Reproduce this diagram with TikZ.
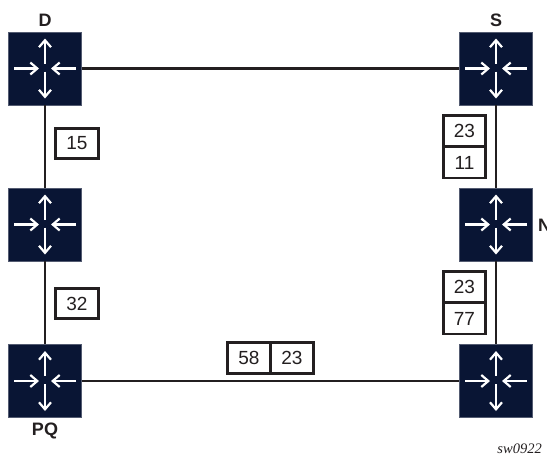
\documentclass[tikz,border=0pt]{standalone}
\usepackage{fontspec}
\setmainfont{Liberation Sans}
\newfontfamily\figfont{Liberation Serif}
\usetikzlibrary{arrows.meta}
\definecolor{routerblue}{RGB}{9,21,52}
\definecolor{linedark}{RGB}{35,31,32}
\tikzset{
  routerbox/.style={fill=routerblue,draw=routerblue!70!white,line width=0.4pt,minimum size=73pt,inner sep=0pt},
  routerarrow/.style={draw=white,line width=2.2pt,-{Straight Barb[length=7pt,width=12pt,line width=2.2pt]}},
  routerlink/.style={draw=linedark,line width=2.8pt},
  labelbox/.style={fill=white,draw=linedark,line width=2.8pt,inner sep=0pt,font=\fontsize{19}{22}\selectfont,text=linedark},
  routername/.style={font=\fontsize{18}{21}\selectfont\bfseries,text=linedark,inner sep=0pt},
  pics/router/.style={code={
    \draw[routerarrow] (-31,0) -- (-6,0);
    \draw[routerarrow] (31,0) -- (6,0);
    \draw[routerarrow] (0,-5) -- (0,-30);
    \draw[routerarrow] (0,3) -- (0,30);
  }}
}
\begin{document}
\begin{tikzpicture}[x=1pt,y=-1pt]
\useasboundingbox (0,0) rectangle (547,456);
% routers
\node[routerbox] (d) at (45,68.5) {};
\node[routerbox] (s) at (496,68.5) {};
\node[routerbox] (ml) at (45,224.5) {};
\node[routerbox] (n) at (496,224.5) {};
\node[routerbox] (pq) at (45,381) {};
\node[routerbox] (br) at (496,381) {};
% links
\draw[routerlink] (d) -- (s);
\draw[routerlink] (d) -- (ml);
\draw[routerlink] (ml) -- (pq);
\draw[routerlink] (s) -- (n);
\draw[routerlink] (n) -- (br);
\draw[routerlink] (pq) -- (br);
\foreach \p in {d,s,ml,n,pq,br} {
  \pic at (\p) {router};
}
% labels
\node[labelbox,minimum width=43pt,minimum height=30pt] (l15) at (77,143.5) {15};
\node[labelbox,minimum width=43pt,minimum height=30pt] (l32) at (77,303.5) {32};
\node[labelbox,minimum width=42pt,minimum height=31pt] (l23a) at (464.5,131) {23};
\node[labelbox,minimum width=42pt,minimum height=31pt] (l11) at (464.5,162.5) {11};
\node[labelbox,minimum width=42pt,minimum height=31pt] (l23b) at (464.5,287) {23};
\node[labelbox,minimum width=42pt,minimum height=31pt] (l77) at (464.5,318.5) {77};
\node[labelbox,minimum width=43pt,minimum height=31pt] (l58) at (249,358) {58};
\node[labelbox,minimum width=43pt,minimum height=31pt] (l23c) at (292,358) {23};
% names
\node[routername] (dname) at (45,20) {D};
\node[routername] (sname) at (496,20) {S};
\node[routername,anchor=west] (nname) at (538,225) {N};
\node[routername] (pqname) at (45,431) {PQ};
\node[anchor=east,inner sep=0pt,font=\figfont\itshape\fontsize{14.5}{16}\selectfont,text=linedark] (figid) at (542,449) {sw0922};
\end{tikzpicture}
\end{document}
